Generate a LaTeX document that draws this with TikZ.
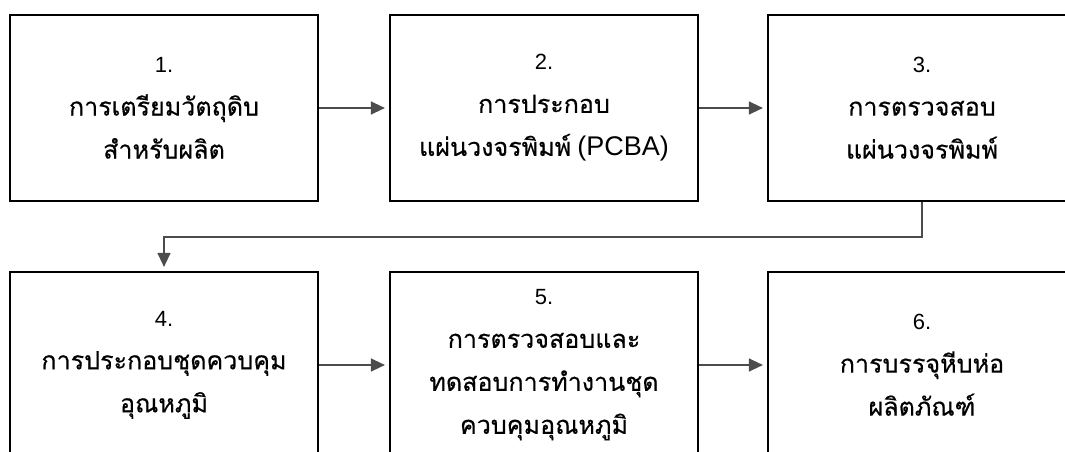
\documentclass[tikz,border=0pt]{standalone}
\usepackage{fontspec}
\setmainfont{Liberation Sans}
\newfontfamily\thai[Script=Thai,Scale=1.14,FakeBold=0.4]{Loma}
\usetikzlibrary{arrows.meta,calc}
\tikzset{
  procbox/.style={draw=black, line width=2.2pt, fill=white, minimum width=308pt, minimum height=186pt,
    inner sep=0pt, align=center, font=\fontsize{22pt}{43pt}\selectfont},
  conn/.style={draw=black!70, line width=1.3pt, -{Triangle[length=14pt,width=13pt]}, shorten >=4pt}
}
\begin{document}
\begin{tikzpicture}[x=1pt,y=-1pt]
\useasboundingbox (0,0) rectangle (1065,452);
\clip (0,0) rectangle (1065,452);
\fill[white] (0,0) rectangle (1065,452);
\node[procbox] (b1) at (164,108) {1.\\ {\thai การเตรียมวัตถุดิบ}\\ {\thai สำหรับผลิต}};
\node[procbox] (b2) at (544,108) {2.\\ {\thai การประกอบ}\\ {\thai แผ่นวงจรพิมพ์} {\fontsize{27pt}{43pt}\selectfont (PCBA)}};
\node[procbox] (b3) at (922,108) {3.\\ {\thai การตรวจสอบ}\\ {\thai แผ่นวงจรพิมพ์}};
\node[procbox] (b4) at (164,365) {4.\\ {\thai การประกอบชุดควบคุม}\\ {\thai อุณหภูมิ}};
\node[procbox] (b5) at (544,365) {5.\\ {\thai การตรวจสอบและ}\\ {\thai ทดสอบการทำงานชุด}\\ {\thai ควบคุมอุณหภูมิ}};
\node[procbox] (b6) at (922,365) {6.\\ {\thai การบรรจุหีบห่อ}\\ {\thai ผลิตภัณฑ์}};
\draw[conn] (b1) -- (b2);
\draw[conn] (b2) -- (b3);
\draw[conn] (b3.south) -- ++(0,35) -| (b4.north);
\draw[conn] (b4) -- (b5);
\draw[conn] (b5) -- (b6);
\end{tikzpicture}
\end{document}
